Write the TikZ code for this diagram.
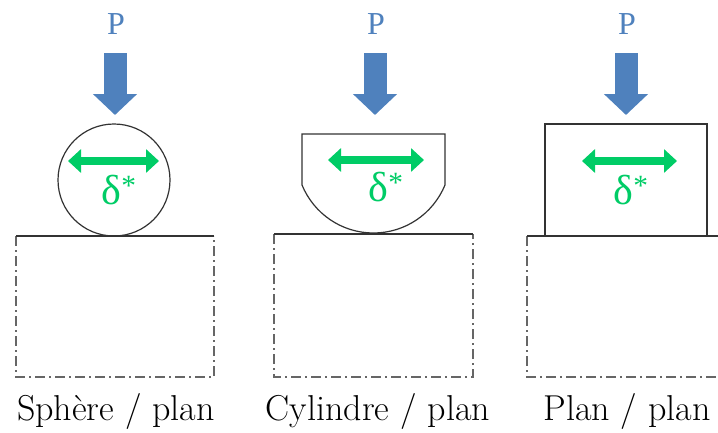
\documentclass[tikz,border=0pt]{standalone}
\usepackage{fontspec}
\usetikzlibrary{arrows.meta}
\newfontfamily\symfont{Liberation Serif}
\definecolor{forceblue}{RGB}{79,129,189}
\definecolor{slipgreen}{RGB}{0,204,102}
\tikzset{
  force/.style={forceblue, line width=23pt, -{Triangle[length=21pt,width=43pt]}},
  slip/.style={slipgreen, line width=8pt, {Triangle[length=13pt,width=23pt]}-{Triangle[length=13pt,width=23pt]}},
  body/.style={draw=black!80, line width=1.2pt},
  support/.style={draw=black!60, line width=1.2pt, dash pattern=on 10pt off 4pt on 2pt off 4pt},
  load/.style={text=forceblue, font=\symfont\fontsize{32}{32}\selectfont},
  delta/.style={text=slipgreen, font=\symfont\fontsize{42}{42}\selectfont},
  caption/.style={font=\fontsize{36}{36}\selectfont}
}
\begin{document}
\begin{tikzpicture}[x=1pt,y=-1pt]
        \clip (0,0) rectangle (718,432);
        % load P on each contact
        \foreach \i/\x in {1/115,2/375,3/626}{
          \node[load] (P\i) at (\x+1,24) {P};
          \coordinate (top\i) at (\x,53);
          \coordinate (tip\i) at (\x,115);
          \draw[force] (top\i) -- (tip\i);
        }

        % sphere / plan
        \draw[body] (114,180) circle[radius=56];
        \coordinate (a1) at (68,161);
        \coordinate (b1) at (159,161);
        \draw[slip] (a1) -- (b1);
        \node[delta] (d1) at (119,190) {δ\textsuperscript{*}};
        \draw[support] (16,236) -- (16,377) -- (214,377) -- (214,236);
        \draw[body] (16,236) -- (214,236);
        \node[caption] (s1) at (116,411) {Sphère / plan};

        % cylindre / plan
        \draw[body] (302,185) -- (302,134) -- (445,134) -- (445,185)
          .. controls (433,214) and (405,233) .. (373.5,233)
          .. controls (342,233) and (314,214) .. (302,185);
        \coordinate (a2) at (328,160);
        \coordinate (b2) at (424,160);
        \draw[slip] (a2) -- (b2);
        \node[delta] (d2) at (386,187) {δ\textsuperscript{*}};
        \draw[support] (274,234) -- (274,377) -- (473,377) -- (473,234);
        \draw[body] (274,234) -- (473,234);
        \node[caption] (s2) at (378,411) {Cylindre / plan};

        % plan / plan
        \draw[body] (545,236) -- (545,124) -- (707,124) -- (707,236);
        \coordinate (a3) at (582,161);
        \coordinate (b3) at (677,161);
        \draw[slip] (a3) -- (b3);
        \node[delta] (d3) at (631,190) {δ\textsuperscript{*}};
        \draw[support] (527,236) -- (527,377) -- (730,377);
        \draw[body] (527,236) -- (730,236);
        \node[caption] (s3) at (627,411) {Plan / plan};
      \end{tikzpicture}
\end{document}
